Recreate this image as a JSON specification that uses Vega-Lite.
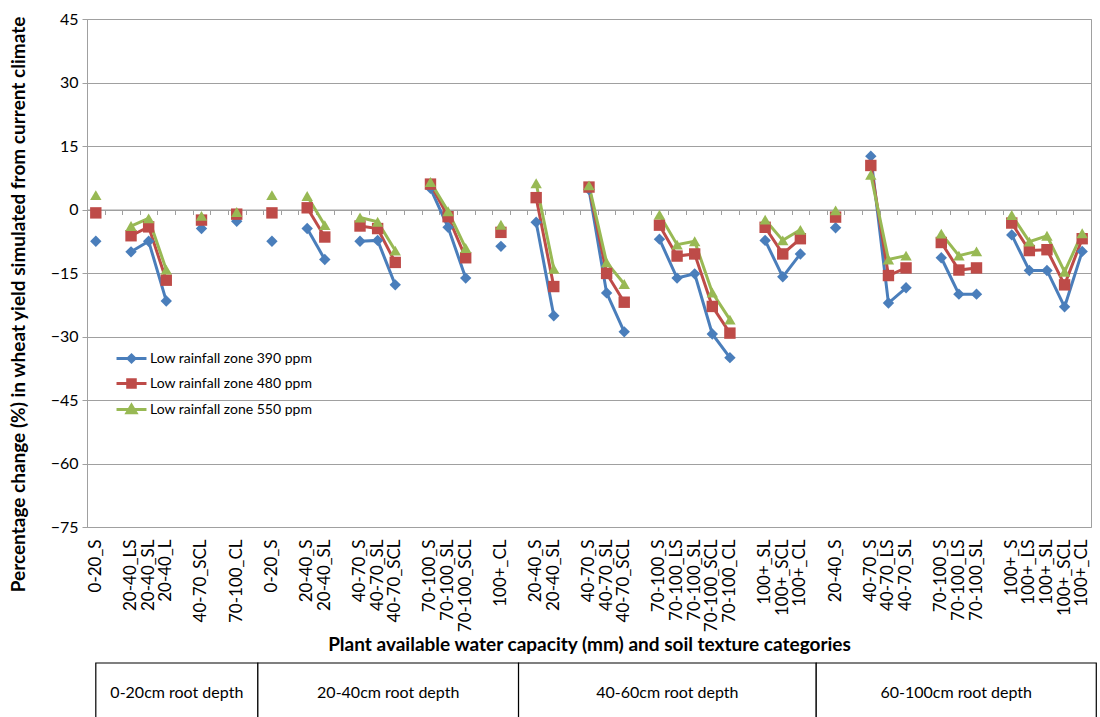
{
  "$schema": "https://vega.github.io/schema/vega-lite/v6.json",
  "autosize": {"type": "pad"},
  "padding": {"left": 8, "top": 10, "right": 0, "bottom": 0},
  "background": "white",
  "bounds": "flush",
  "spacing": 136,
  "config": {
    "font": "Lato",
    "view": {"stroke": "#a0a0a0", "strokeWidth": 1},
    "axis": {"labelFont": "Lato", "titleFont": "Lato", "labelColor": "#000", "titleColor": "#000"}
  },
  "vconcat": [
    {
      "width": 1004,
      "height": 508,
      "data": {
        "values": [
          {"cat": "0-20_S#0", "seg": "a", "Low rainfall zone 390 ppm": -7.5, "Low rainfall zone 480 ppm": -0.8, "Low rainfall zone 550 ppm": 3.4},
          {"cat": "20-40_LS#2", "seg": "b", "Low rainfall zone 390 ppm": -10.0, "Low rainfall zone 480 ppm": -6.2, "Low rainfall zone 550 ppm": -3.9},
          {"cat": "20-40_SL#3", "seg": "b", "Low rainfall zone 390 ppm": -7.5, "Low rainfall zone 480 ppm": -4.1, "Low rainfall zone 550 ppm": -2.1},
          {"cat": "20-40_L#4", "seg": "b", "Low rainfall zone 390 ppm": -21.6, "Low rainfall zone 480 ppm": -16.7, "Low rainfall zone 550 ppm": -14.2},
          {"cat": "40-70_SCL#6", "seg": "c", "Low rainfall zone 390 ppm": -4.5, "Low rainfall zone 480 ppm": -2.5, "Low rainfall zone 550 ppm": -1.5},
          {"cat": "70-100_CL#8", "seg": "d", "Low rainfall zone 390 ppm": -2.8, "Low rainfall zone 480 ppm": -1.1, "Low rainfall zone 550 ppm": -0.6},
          {"cat": "0-20_S#10", "seg": "e", "Low rainfall zone 390 ppm": -7.5, "Low rainfall zone 480 ppm": -0.8, "Low rainfall zone 550 ppm": 3.4},
          {"cat": "20-40_S#12", "seg": "f", "Low rainfall zone 390 ppm": -4.5, "Low rainfall zone 480 ppm": 0.4, "Low rainfall zone 550 ppm": 3.2},
          {"cat": "20-40_SL#13", "seg": "f", "Low rainfall zone 390 ppm": -11.8, "Low rainfall zone 480 ppm": -6.5, "Low rainfall zone 550 ppm": -3.7},
          {"cat": "40-70_S#15", "seg": "g", "Low rainfall zone 390 ppm": -7.5, "Low rainfall zone 480 ppm": -3.9, "Low rainfall zone 550 ppm": -1.9},
          {"cat": "40-70_SL#16", "seg": "g", "Low rainfall zone 390 ppm": -7.3, "Low rainfall zone 480 ppm": -4.5, "Low rainfall zone 550 ppm": -2.9},
          {"cat": "40-70_SCL#17", "seg": "g", "Low rainfall zone 390 ppm": -17.8, "Low rainfall zone 480 ppm": -12.5, "Low rainfall zone 550 ppm": -9.7},
          {"cat": "70-100_S#19", "seg": "h", "Low rainfall zone 390 ppm": 5.0, "Low rainfall zone 480 ppm": 6.0, "Low rainfall zone 550 ppm": 6.5},
          {"cat": "70-100_SL#20", "seg": "h", "Low rainfall zone 390 ppm": -4.2, "Low rainfall zone 480 ppm": -1.7, "Low rainfall zone 550 ppm": -0.4},
          {"cat": "70-100_SCL#21", "seg": "h", "Low rainfall zone 390 ppm": -16.2, "Low rainfall zone 480 ppm": -11.4, "Low rainfall zone 550 ppm": -9.1},
          {"cat": "100+_CL#23", "seg": "i", "Low rainfall zone 390 ppm": -8.7, "Low rainfall zone 480 ppm": -5.4, "Low rainfall zone 550 ppm": -3.6},
          {"cat": "20-40_S#25", "seg": "j", "Low rainfall zone 390 ppm": -3.0, "Low rainfall zone 480 ppm": 2.8, "Low rainfall zone 550 ppm": 6.2},
          {"cat": "20-40_SL#26", "seg": "j", "Low rainfall zone 390 ppm": -25.1, "Low rainfall zone 480 ppm": -18.2, "Low rainfall zone 550 ppm": -14.0},
          {"cat": "40-70_S#28", "seg": "k", "Low rainfall zone 390 ppm": 4.7, "Low rainfall zone 480 ppm": 5.3, "Low rainfall zone 550 ppm": 5.7},
          {"cat": "40-70_SL#29", "seg": "k", "Low rainfall zone 390 ppm": -19.7, "Low rainfall zone 480 ppm": -15.1, "Low rainfall zone 550 ppm": -12.5},
          {"cat": "40-70_SCL#30", "seg": "k", "Low rainfall zone 390 ppm": -28.9, "Low rainfall zone 480 ppm": -21.9, "Low rainfall zone 550 ppm": -17.6},
          {"cat": "70-100_S#32", "seg": "l", "Low rainfall zone 390 ppm": -7.0, "Low rainfall zone 480 ppm": -3.7, "Low rainfall zone 550 ppm": -1.2},
          {"cat": "70-100_LS#33", "seg": "l", "Low rainfall zone 390 ppm": -16.2, "Low rainfall zone 480 ppm": -11.0, "Low rainfall zone 550 ppm": -8.3},
          {"cat": "70-100_SL#34", "seg": "l", "Low rainfall zone 390 ppm": -15.2, "Low rainfall zone 480 ppm": -10.5, "Low rainfall zone 550 ppm": -7.5},
          {"cat": "70-100_SCL#35", "seg": "l", "Low rainfall zone 390 ppm": -29.4, "Low rainfall zone 480 ppm": -22.9, "Low rainfall zone 550 ppm": -19.6},
          {"cat": "70-100_CL#36", "seg": "l", "Low rainfall zone 390 ppm": -35.0, "Low rainfall zone 480 ppm": -29.2, "Low rainfall zone 550 ppm": -26.0},
          {"cat": "100+_SL#38", "seg": "m", "Low rainfall zone 390 ppm": -7.3, "Low rainfall zone 480 ppm": -4.2, "Low rainfall zone 550 ppm": -2.4},
          {"cat": "100+_SCL#39", "seg": "m", "Low rainfall zone 390 ppm": -15.9, "Low rainfall zone 480 ppm": -10.5, "Low rainfall zone 550 ppm": -7.3},
          {"cat": "100+_CL#40", "seg": "m", "Low rainfall zone 390 ppm": -10.5, "Low rainfall zone 480 ppm": -6.9, "Low rainfall zone 550 ppm": -4.8},
          {"cat": "20-40_S#42", "seg": "n", "Low rainfall zone 390 ppm": -4.3, "Low rainfall zone 480 ppm": -1.8, "Low rainfall zone 550 ppm": -0.2},
          {"cat": "40-70_S#44", "seg": "o", "Low rainfall zone 390 ppm": 12.6, "Low rainfall zone 480 ppm": 10.4, "Low rainfall zone 550 ppm": 8.2},
          {"cat": "40-70_LS#45", "seg": "o", "Low rainfall zone 390 ppm": -22.1, "Low rainfall zone 480 ppm": -15.6, "Low rainfall zone 550 ppm": -11.8},
          {"cat": "40-70_SL#46", "seg": "o", "Low rainfall zone 390 ppm": -18.5, "Low rainfall zone 480 ppm": -13.8, "Low rainfall zone 550 ppm": -10.9},
          {"cat": "70-100_S#48", "seg": "p", "Low rainfall zone 390 ppm": -11.4, "Low rainfall zone 480 ppm": -7.8, "Low rainfall zone 550 ppm": -5.7},
          {"cat": "70-100_LS#49", "seg": "p", "Low rainfall zone 390 ppm": -20.0, "Low rainfall zone 480 ppm": -14.3, "Low rainfall zone 550 ppm": -10.9},
          {"cat": "70-100_SL#50", "seg": "p", "Low rainfall zone 390 ppm": -20.0, "Low rainfall zone 480 ppm": -13.8, "Low rainfall zone 550 ppm": -9.9},
          {"cat": "100+_S#52", "seg": "q", "Low rainfall zone 390 ppm": -6.0, "Low rainfall zone 480 ppm": -3.2, "Low rainfall zone 550 ppm": -1.3},
          {"cat": "100+_LS#53", "seg": "q", "Low rainfall zone 390 ppm": -14.4, "Low rainfall zone 480 ppm": -9.7, "Low rainfall zone 550 ppm": -7.6},
          {"cat": "100+_SL#54", "seg": "q", "Low rainfall zone 390 ppm": -14.4, "Low rainfall zone 480 ppm": -9.5, "Low rainfall zone 550 ppm": -6.2},
          {"cat": "100+_SCL#55", "seg": "q", "Low rainfall zone 390 ppm": -23.0, "Low rainfall zone 480 ppm": -17.8, "Low rainfall zone 550 ppm": -14.7},
          {"cat": "100+_CL#56", "seg": "q", "Low rainfall zone 390 ppm": -9.9, "Low rainfall zone 480 ppm": -6.9, "Low rainfall zone 550 ppm": -5.6}
        ]
      },
      "transform": [
        {"fold": ["Low rainfall zone 390 ppm", "Low rainfall zone 480 ppm", "Low rainfall zone 550 ppm"], "as": ["series", "change"]}
      ],
      "layer": [
        {
          "mark": {"type": "line", "strokeWidth": 3},
          "encoding": {
            "x": {
              "field": "cat",
              "type": "ordinal",
              "scale": {
                "type": "band",
                "paddingInner": 0,
                "paddingOuter": 0,
                "domain": ["0-20_S#0", "#1", "20-40_LS#2", "20-40_SL#3", "20-40_L#4", "#5", "40-70_SCL#6", "#7", "70-100_CL#8", "#9", "0-20_S#10", "#11", "20-40_S#12", "20-40_SL#13", "#14", "40-70_S#15", "40-70_SL#16", "40-70_SCL#17", "#18", "70-100_S#19", "70-100_SL#20", "70-100_SCL#21", "#22", "100+_CL#23", "#24", "20-40_S#25", "20-40_SL#26", "#27", "40-70_S#28", "40-70_SL#29", "40-70_SCL#30", "#31", "70-100_S#32", "70-100_LS#33", "70-100_SL#34", "70-100_SCL#35", "70-100_CL#36", "#37", "100+_SL#38", "100+_SCL#39", "100+_CL#40", "#41", "20-40_S#42", "#43", "40-70_S#44", "40-70_LS#45", "40-70_SL#46", "#47", "70-100_S#48", "70-100_LS#49", "70-100_SL#50", "#51", "100+_S#52", "100+_LS#53", "100+_SL#54", "100+_SCL#55", "100+_CL#56"]
              },
              "axis": {
                "orient": "bottom",
                "labelExpr": "split(datum.value, '#')[0]",
                "labelAngle": -90,
                "labelFontSize": 17,
                "labelPadding": 12,
                "labelOverlap": false,
                "ticks": false,
                "domain": false,
                "grid": false,
                "title": "Plant available water  capacity (mm) and soil texture categories",
                "titleFontSize": 19,
                "titleFontWeight": "bold",
                "titleBaseline": "middle",
                "titleY": 117
              }
            },
            "y": {
              "field": "change",
              "type": "quantitative",
              "scale": {"domain": [-75, 45], "nice": false, "zero": false},
              "axis": {
                "values": [-75, -60, -45, -30, -15, 0, 15, 30, 45],
                "grid": true,
                "gridColor": "#a0a0a0",
                "domainColor": "#a0a0a0",
                "tickColor": "#a0a0a0",
                "tickSize": 5,
                "labelFontSize": 16,
                "labelPadding": 4,
                "title": "Percentage change (%) in wheat yield simulated from current climate",
                "titleFontSize": 19,
                "titleFontWeight": "bold",
                "titleBaseline": "bottom",
                "titleX": -59,
                "titleY": 285
              }
            },
            "color": {
              "field": "series",
              "type": "nominal",
              "scale": {
                "domain": ["Low rainfall zone 390 ppm", "Low rainfall zone 480 ppm", "Low rainfall zone 550 ppm"],
                "range": ["#4a7ebb", "#be4b48", "#98b954"]
              },
              "legend": {
                "title": null,
                "orient": "none",
                "legendX": 29,
                "legendY": 324,
                "padding": 0,
                "symbolSize": 784,
                "rowPadding": 0,
                "labelFont": "Lato",
                "labelFontSize": 14,
                "labelColor": "#000",
                "labelOffset": 3,
                "labelLimit": 0,
                "encode": {
                  "symbols": {
                    "update": {
                      "shape": {"signal": "datum.value === 'Low rainfall zone 390 ppm' ? 'M-1.07,0L1.07,0M0,-0.25L0.25,0L0,0.25L-0.25,0Z' : datum.value === 'Low rainfall zone 480 ppm' ? 'M-1.07,0L1.07,0M-0.27,-0.27L0.27,-0.27L0.27,0.27L-0.27,0.27Z' : 'M-1.07,0L1.07,0M0,-0.3L0.32,0.24L-0.32,0.24Z'"},
                      "strokeWidth": {"value": 3},
                      "stroke": {"signal": "scale('color', datum.value)"},
                      "fill": {"signal": "scale('color', datum.value)"},
                      "opacity": {"value": 1},
                      "fillOpacity": {"value": 1}
                    }
                  }
                }
              }
            },
            "detail": {"field": "seg", "type": "nominal"}
          }
        },
        {
          "mark": {"type": "point", "filled": true, "opacity": 1, "size": 130},
          "encoding": {
            "x": {
              "field": "cat",
              "type": "ordinal",
              "axis": {
                "orient": "top",
                "offset": -190.5,
                "labels": false,
                "ticks": true,
                "tickBand": "extent",
                "tickSize": -5,
                "tickColor": "#a0a0a0",
                "domain": true,
                "domainColor": "#a0a0a0",
                "grid": false,
                "title": null
              }
            },
            "y": {"field": "change", "type": "quantitative"},
            "color": {"field": "series", "type": "nominal"},
            "shape": {
              "field": "series",
              "type": "nominal",
              "scale": {"range": ["diamond", "square", "triangle-up"]},
              "legend": null
            }
          }
        }
      ],
      "resolve": {"axis": {"x": "independent"}}
    },
    {
      "width": 1004,
      "height": 60,
      "view": {"stroke": null},
      "data": {
        "values": [
          {"depth": "0-20cm root depth", "start": 0.0, "end": 9.2},
          {"depth": "20-40cm root depth", "start": 9.2, "end": 24.0},
          {"depth": "40-60cm root depth", "start": 24.0, "end": 40.9},
          {"depth": "60-100cm root depth", "start": 40.9, "end": 56.8}
        ]
      },
      "layer": [
        {
          "mark": {"type": "rect", "fill": "white", "stroke": "#000", "strokeWidth": 1.2},
          "encoding": {
            "x": {"field": "start", "type": "quantitative", "scale": {"domain": [-0.5, 56.5], "nice": false, "zero": false}, "axis": null},
            "x2": {"field": "end"}
          }
        },
        {
          "transform": [{"fold": ["start", "end"], "as": ["edge", "pos"]}],
          "mark": {"type": "text", "font": "Lato", "fontSize": 16, "color": "#000"},
          "encoding": {
            "x": {"field": "pos", "aggregate": "mean", "type": "quantitative"},
            "text": {"field": "depth", "type": "nominal"}
          }
        }
      ]
    }
  ]
}
